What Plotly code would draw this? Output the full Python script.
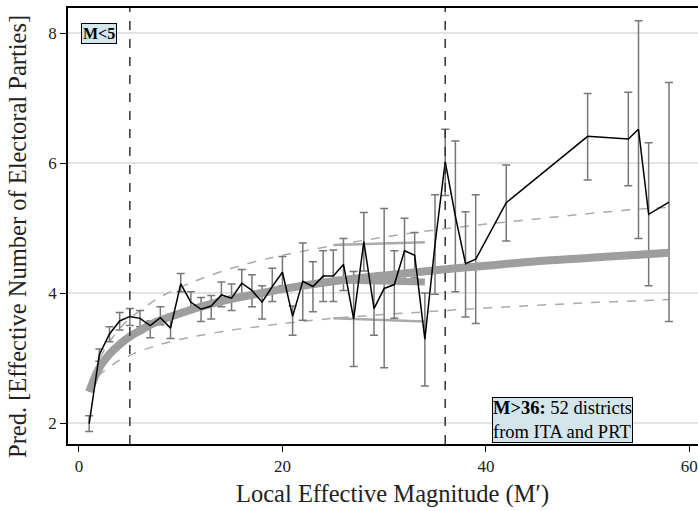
import plotly.graph_objects as go

# Observed predicted values (black line) with CI
M_obs = [1, 2, 3, 4, 5, 6, 7, 8, 9, 10, 11, 12, 13, 14, 15, 16, 17, 18, 19, 20,
         21, 22, 23, 24, 25, 26, 27, 28, 29, 30, 31, 32, 33, 34, 35, 36, 37, 38, 39,
         42, 50, 54, 55, 56, 58]
pred = [1.99, 3.05, 3.37, 3.57, 3.64, 3.61, 3.50, 3.62, 3.46, 4.14, 3.86, 3.75, 3.80, 3.97, 3.92, 4.15, 4.04, 3.86, 4.10, 4.32,
        3.64, 4.18, 4.10, 4.26, 4.26, 4.44, 3.60, 4.79, 3.76, 4.07, 4.13, 4.65, 4.58, 3.29, 4.75, 6.02, 5.18, 4.45, 4.52,
        5.39, 6.41, 6.37, 6.52, 5.21, 5.40]
lo = [1.87, 2.95, 3.25, 3.43, 3.50, 3.48, 3.31, 3.51, 3.30, 4.02, 3.76, 3.56, 3.60, 3.79, 3.73, 3.95, 3.79, 3.60, 3.87, 4.11,
      3.35, 3.58, 3.71, 3.87, 3.87, 4.04, 2.87, 4.34, 3.35, 2.85, 3.61, 4.15, 4.23, 2.57, 3.98, 5.50, 4.02, 3.63, 3.53,
      4.80, 5.74, 5.65, 4.84, 4.11, 3.56]
hi = [2.11, 3.14, 3.48, 3.70, 3.76, 3.73, 3.57, 3.79, 3.65, 4.30, 4.02, 3.93, 3.96, 4.17, 4.14, 4.36, 4.28, 4.11, 4.38, 4.56,
      3.80, 4.77, 4.48, 4.65, 4.66, 4.84, 4.33, 5.24, 4.17, 5.30, 4.65, 5.15, 4.93, 4.00, 5.51, 6.52, 6.34, 5.25, 5.51,
      5.97, 7.07, 7.09, 8.19, 6.31, 7.24]

# Fitted curve (thick gray) and dashed bounds
M_fit = [1, 2, 3, 4, 5, 6, 7, 8, 10, 12, 15, 18, 20, 25, 30, 35, 40, 45, 50, 55, 58]
fit = [2.48, 2.85, 3.06, 3.21, 3.33, 3.42, 3.51, 3.58, 3.69, 3.79, 3.91, 4.00, 4.06, 4.18, 4.27, 4.35, 4.42, 4.49, 4.54, 4.59, 4.62]
fit_up = [2.48, 2.97, 3.25, 3.45, 3.61, 3.73, 3.84, 3.94, 4.09, 4.22, 4.38, 4.51, 4.58, 4.73, 4.86, 4.97, 5.06, 5.14, 5.22, 5.29, 5.32]
fit_lo = [2.48, 2.74, 2.86, 2.97, 3.04, 3.11, 3.16, 3.21, 3.29, 3.35, 3.43, 3.49, 3.53, 3.61, 3.67, 3.72, 3.77, 3.81, 3.85, 3.88, 3.90]

# Short segment fit for 25..34
M_seg = [25, 34]
seg = [4.20, 4.17]
seg_up = [4.74, 4.78]
seg_lo = [3.61, 3.56]

x_ticks = [0, 20, 40, 60]
y_ticks = [2, 4, 6, 8]
vlines = [5, 36]

serif = "Liberation Serif, DejaVu Serif, serif"

fig = go.Figure()

fig.add_trace(go.Scatter(x=M_fit, y=fit_up, mode="lines", line=dict(color="#aaaaaa", width=1.5, dash="dash", shape="spline"), hoverinfo="skip"))
fig.add_trace(go.Scatter(x=M_fit, y=fit_lo, mode="lines", line=dict(color="#aaaaaa", width=1.5, dash="dash", shape="spline"), hoverinfo="skip"))
fig.add_trace(go.Scatter(x=M_seg, y=seg_up, mode="lines", line=dict(color="#aaaaaa", width=2.5)))
fig.add_trace(go.Scatter(x=M_seg, y=seg_lo, mode="lines", line=dict(color="#aaaaaa", width=2.5)))

# error bars
fig.add_trace(go.Scatter(
    x=M_obs, y=pred, mode="markers", marker=dict(size=0.1, color="rgba(0,0,0,0)"),
    error_y=dict(type="data", symmetric=False,
                 array=[h - p for h, p in zip(hi, pred)],
                 arrayminus=[p - l for p, l in zip(pred, lo)],
                 color="#777777", thickness=1.5, width=4)))

fig.add_trace(go.Scatter(x=M_fit, y=fit, mode="lines", line=dict(color="#9e9e9e", width=8, shape="spline")))
fig.add_trace(go.Scatter(x=M_seg, y=seg, mode="lines", line=dict(color="#9e9e9e", width=7)))

fig.add_trace(go.Scatter(x=M_obs, y=pred, mode="lines", line=dict(color="black", width=1.5)))

for v in vlines:
    fig.add_shape(type="line", x0=v, x1=v, y0=0, y1=1, xref="x", yref="paper",
                  line=dict(color="#333333", width=1.5, dash="dash"))

fig.add_annotation(x=2.0, y=8.0, xref="x", yref="y", text="<b>M<5</b>", showarrow=False,
                   font=dict(family=serif, size=16, color="black"),
                   bgcolor="#d4e5ec", bordercolor="black", borderwidth=1, borderpad=1)
fig.add_annotation(x=47.5, y=0, xref="x", yref="paper", yanchor="bottom", yshift=1,
                   text="<b>M>36:</b> 52 districts<br>from ITA and PRT", showarrow=False, align="left",
                   font=dict(family=serif, size=18.5, color="black"),
                   bgcolor="#d4e5ec", bordercolor="black", borderwidth=1, borderpad=0)

# axis titles as annotations for precise placement
fig.add_annotation(x=0.5, y=0, xref="paper", yref="paper", xanchor="center", yanchor="middle",
                   yshift=-50, xshift=9, text="Local Effective Magnitude (M′)", showarrow=False,
                   font=dict(family=serif, size=24.5, color="#222222"))
fig.add_annotation(x=0, y=0.5, xref="paper", yref="paper", xanchor="center", yanchor="middle",
                   xshift=-51, yshift=-11, textangle=-90,
                   text="Pred. [Effective Number of Electoral Parties]", showarrow=False,
                   font=dict(family=serif, size=24.5, color="#222222"))

fig.update_layout(
    width=698, height=511,
    margin=dict(l=68, r=0, t=8, b=67),
    paper_bgcolor="white", plot_bgcolor="white",
    showlegend=False,
    font=dict(family=serif, size=17, color="#222222"),
    xaxis=dict(range=[-1.08, 60.85], tickvals=x_ticks, ticks="outside", ticklen=6, tickcolor="black",
               showline=True, linecolor="black", linewidth=1.5, mirror=True, showgrid=False, zeroline=False,
               automargin=False),
    yaxis=dict(range=[1.677, 8.385], tickvals=y_ticks, ticks="outside", ticklen=6, tickcolor="black",
               showline=True, linecolor="black", linewidth=1.5, mirror=False, showgrid=True,
               gridcolor="#e3e3e3", gridwidth=1.5, zeroline=False, automargin=False),
)

fig.write_html("out.html", config={"displayModeBar": False},
               post_script="document.body.style.margin='0';document.body.style.overflow='hidden';")
